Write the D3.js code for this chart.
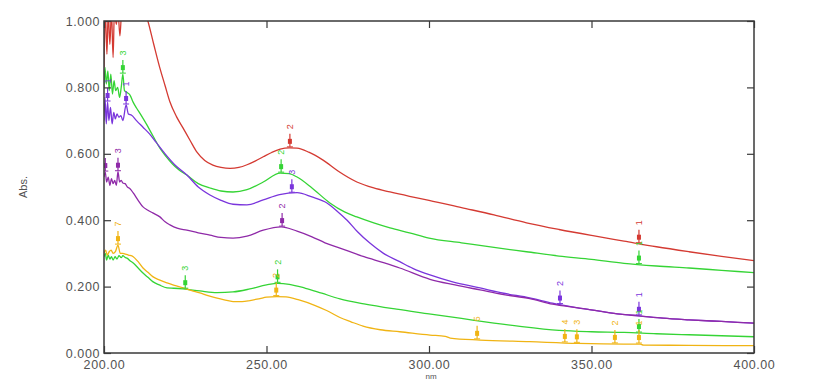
<!DOCTYPE html>
<html>
<head>
<meta charset="utf-8">
<script src="https://cdn.jsdelivr.net/npm/d3@7"></script>
<style>
  body { margin: 0; background: #fff; }
  svg { display: block; font-family: "Liberation Sans", Arial, sans-serif; }
</style>
</head>
<body>
<svg id="chart" width="815" height="381"></svg>
<script>
// wavelength (nm) / absorbance pairs
const redData = [
  [200, 0.86], [200.4, 1.03], [200.9, 0.9], [201.3, 1.03], [201.8, 0.93], [202.3, 1.03],
  [202.8, 0.89], [203.2, 1.03], [203.8, 0.99], [204.3, 1.03], [204.9, 0.955], [205.4, 1.03],
  [206, 1.06], [210, 1.08], [213.5, 1.0], [215.3, 0.93], [217.2, 0.858], [218.8, 0.805],
  [220.3, 0.756], [222.3, 0.712], [224.3, 0.678], [226.5, 0.64], [228.6, 0.605], [231, 0.58],
  [233.5, 0.566], [236, 0.559], [238.8, 0.556], [241.5, 0.559], [244, 0.567], [246.5, 0.578],
  [249, 0.591], [251.6, 0.604], [254.2, 0.614], [257, 0.618], [259.4, 0.617], [263, 0.605],
  [267.4, 0.581], [272, 0.548], [277.8, 0.515], [283, 0.497], [288, 0.485], [294, 0.472],
  [300, 0.46], [310, 0.438], [320, 0.416], [330, 0.392], [340, 0.372], [350, 0.354],
  [360, 0.337], [370, 0.32], [380, 0.305], [390, 0.291], [400, 0.278]
];
const green1Data = [
  [200, 0.8], [200.3, 0.86], [200.7, 0.81], [201.2, 0.85], [201.6, 0.79], [202.1, 0.84],
  [202.6, 0.78], [203.1, 0.82], [203.6, 0.79], [204.2, 0.8], [204.8, 0.77], [205.3, 0.8],
  [205.8, 0.84], [206.3, 0.79], [207, 0.785], [208, 0.777], [209, 0.755], [210, 0.738],
  [211.5, 0.715], [213.2, 0.687], [215, 0.655], [217.2, 0.617], [219, 0.593], [221, 0.57],
  [223, 0.552], [225.5, 0.536], [229, 0.51], [232.6, 0.497], [236, 0.488], [239.7, 0.485],
  [244, 0.492], [249, 0.515], [254.2, 0.542], [257, 0.54], [259.4, 0.53], [264, 0.497],
  [269.5, 0.452], [274, 0.425], [277.8, 0.41], [283, 0.392], [288, 0.377], [294, 0.362],
  [300, 0.346], [310, 0.332], [320, 0.318], [330, 0.305], [340, 0.292], [350, 0.282],
  [360, 0.27], [370, 0.262], [380, 0.256], [390, 0.249], [400, 0.242]
];
const purple1Data = [
  [200, 0.7], [200.3, 0.77], [200.7, 0.69], [201.1, 0.756], [201.5, 0.7], [202, 0.74],
  [202.5, 0.69], [203, 0.725], [203.5, 0.705], [204, 0.72], [204.6, 0.71], [205.2, 0.715],
  [205.8, 0.7], [206.8, 0.747], [207.5, 0.72], [208.5, 0.716], [210, 0.7], [212, 0.68],
  [214, 0.66], [216, 0.635], [218.8, 0.6], [222, 0.565], [225.5, 0.536], [229, 0.5],
  [232.6, 0.476], [236, 0.46], [239.7, 0.448], [244, 0.446], [249, 0.461], [254, 0.477],
  [259.4, 0.483], [264, 0.47], [268.6, 0.452], [272, 0.425], [274.8, 0.4], [278, 0.365],
  [281.8, 0.331], [286, 0.3], [291, 0.275], [295, 0.255], [300.3, 0.235], [307, 0.215],
  [315.7, 0.196], [323, 0.18], [331, 0.166], [338, 0.15], [345.8, 0.136], [352, 0.127],
  [358.8, 0.117], [364.6, 0.112], [372, 0.105], [380, 0.1], [390, 0.095], [400, 0.09]
];
const purple2Data = [
  [200, 0.53], [200.4, 0.545], [200.8, 0.515], [201.3, 0.53], [201.8, 0.505], [202.3, 0.525],
  [202.8, 0.51], [203.3, 0.52], [203.8, 0.505], [204.3, 0.546], [204.8, 0.515], [205.3, 0.52],
  [205.8, 0.512], [206.5, 0.51], [207.2, 0.5], [208, 0.495], [209, 0.482], [210.5, 0.46],
  [212, 0.44], [213.5, 0.43], [215, 0.422], [217.2, 0.41], [218.8, 0.395], [220.3, 0.386],
  [222.5, 0.376], [225.5, 0.37], [229, 0.362], [232.6, 0.355], [236, 0.348], [239.7, 0.346],
  [244, 0.352], [249, 0.37], [254.5, 0.38], [259.4, 0.367], [264, 0.35], [268, 0.332],
  [272.6, 0.316], [280, 0.29], [286, 0.272], [291, 0.256], [300.3, 0.222], [308, 0.205],
  [315.7, 0.19], [323, 0.176], [331, 0.164], [338, 0.147], [345.8, 0.136], [352, 0.127],
  [358.8, 0.117], [364.6, 0.112], [372, 0.105], [380, 0.1], [390, 0.095], [400, 0.09]
];
const green2Data = [
  [200, 0.29], [200.4, 0.3], [200.8, 0.28], [201.3, 0.295], [201.8, 0.283], [202.3, 0.29],
  [202.8, 0.28], [203.4, 0.29], [204, 0.283], [204.6, 0.293], [205.3, 0.287], [205.8, 0.293],
  [206.5, 0.288], [207.2, 0.285], [208, 0.278], [209, 0.271], [210.5, 0.256], [212, 0.241],
  [213.5, 0.228], [215, 0.215], [217, 0.205], [219.4, 0.196], [221.5, 0.195], [224.3, 0.193],
  [229.5, 0.187], [234.8, 0.182], [239.7, 0.184], [244.9, 0.193], [250, 0.205], [253.5, 0.21],
  [257, 0.207], [262, 0.195], [267, 0.18], [272.6, 0.163], [280, 0.148], [290, 0.132],
  [300, 0.118], [310, 0.104], [320, 0.09], [328, 0.08], [340, 0.068], [350, 0.064],
  [360, 0.062], [370, 0.058], [380, 0.055], [390, 0.052], [400, 0.049]
];
const orangeData = [
  [200, 0.3], [200.5, 0.31], [201, 0.295], [201.6, 0.305], [202.2, 0.31], [202.8, 0.3],
  [203.5, 0.305], [204.3, 0.325], [205, 0.3], [205.8, 0.3], [206.6, 0.298], [207.5, 0.295],
  [209, 0.29], [210.5, 0.275], [212, 0.256], [213.5, 0.243], [215, 0.23], [217, 0.22],
  [219.4, 0.211], [222, 0.203], [224.3, 0.196], [227, 0.188], [229.5, 0.181], [232, 0.173],
  [234.8, 0.165], [237, 0.16], [239.7, 0.155], [242.5, 0.155], [244.9, 0.158], [248, 0.164],
  [250, 0.168], [253.2, 0.17], [256, 0.169], [260, 0.16], [265, 0.143], [268.5, 0.128],
  [272.6, 0.107], [276, 0.094], [279.7, 0.081], [285, 0.07], [291, 0.064], [300.3, 0.054],
  [305, 0.05], [306.5, 0.045], [315.7, 0.039], [331, 0.034], [345.8, 0.029], [360, 0.027],
  [365, 0.027], [366, 0.024], [380, 0.023], [400, 0.022]
];

// peak-pick markers: [nm, label]
const redMarks = [[257.2, "2"], [364.6, "1"]];
const green1Marks = [[205.8, "3"], [254.5, "2"], [364.6, "1"]];
const purple1Marks = [[201.1, "1"], [206.8, "1"], [257.8, "3"], [340.3, "2"], [364.6, "1"]];
const purple2Marks = [[200.4, ""], [204.3, "3"], [254.8, "2"]];
const green2Marks = [[225, "3"], [253.4, "2"], [364.6, "1"]];
const orangeMarks = [[204.3, "7"], [253, "2"], [314.8, "5"], [341.8, "4"], [345.5, "3"], [357.2, "2"], [364.6, "1"]];

const xTicks = [200, 250, 300, 350, 400];
const yTicks = [0, 0.2, 0.4, 0.6, 0.8, 1.0];

const series = [
  { data: redData, marks: redMarks, color: "#d43a32" },
  { data: green1Data, marks: green1Marks, color: "#35d435" },
  { data: purple1Data, marks: purple1Marks, color: "#7a35dc" },
  { data: purple2Data, marks: purple2Marks, color: "#8f2aa8" },
  { data: green2Data, marks: green2Marks, color: "#35d435" },
  { data: orangeData, marks: orangeMarks, color: "#f0b414" }
];

const margin = { top: 21, right: 61, bottom: 28, left: 104 };
const width = 815, height = 381;

const svg = d3.select("#chart");

const x = d3.scaleLinear([200, 400], [margin.left, width - margin.right]);
const y = d3.scaleLinear([0, 1], [height - margin.bottom, margin.top]);

svg.append("clipPath").attr("id", "plot")
  .append("rect")
  .attr("x", x(200)).attr("y", y(1))
  .attr("width", x(400) - x(200)).attr("height", y(0) - y(1));

// value of a series at a wavelength (linear between read points)
const valueAt = (data, nm) => {
  const i = d3.bisector((d) => d[0]).left(data, nm);
  if (i <= 0) return data[0][1];
  if (i >= data.length) return data[data.length - 1][1];
  const [x0, y0] = data[i - 1], [x1, y1] = data[i];
  return y0 + ((nm - x0) / (x1 - x0)) * (y1 - y0);
};

const line = d3.line()
  .x((d) => x(d[0]))
  .y((d) => y(d[1]))
  .curve(d3.curveMonotoneX);

const plot = svg.append("g").attr("clip-path", "url(#plot)");

plot.selectAll("path.spec")
  .data(series)
  .join("path")
  .attr("class", "spec")
  .attr("fill", "none")
  .attr("stroke", (d) => d.color)
  .attr("stroke-width", 1.3)
  .attr("d", (d) => line(d.data));

// markers
series.forEach((s) => {
  const g = plot.append("g").attr("fill", s.color).attr("stroke", s.color);
  s.marks.forEach(([nm, lab]) => {
    const px = x(nm), py = y(valueAt(s.data, nm));
    g.append("line")
      .attr("x1", px).attr("x2", px)
      .attr("y1", py - 14).attr("y2", py - 1)
      .attr("stroke-width", 1.2);
    g.append("rect")
      .attr("x", px - 2).attr("y", py - 9)
      .attr("width", 4).attr("height", 5)
      .attr("stroke", "none");
    g.append("line")
      .attr("x1", px - 3).attr("x2", px + 3)
      .attr("y1", py - 1).attr("y2", py - 1)
      .attr("stroke-width", 1);
    if (lab) {
      g.append("text")
        .attr("transform", `translate(${px + 3},${py - 21}) rotate(-90)`)
        .attr("text-anchor", "middle")
        .attr("stroke", "none")
        .attr("font-size", 9)
        .text(lab);
    }
  });
});

// axes
const axisColor = "#3a3a3a";
const labelColor = "#525252";

const xAxis = svg.append("g")
  .attr("transform", `translate(0,${y(0)})`)
  .call(d3.axisBottom(x).tickValues(xTicks).tickSize(-7).tickFormat(d3.format(".2f")));
xAxis.selectAll(".tick text").attr("y", 7.5);

svg.append("g")
  .attr("transform", `translate(0,${y(1)})`)
  .call(d3.axisTop(x).tickValues(xTicks).tickSize(-7).tickFormat(""));

const yAxis = svg.append("g")
  .attr("transform", `translate(${x(200)},0)`)
  .call(d3.axisLeft(y).tickValues(yTicks).tickSize(-7).tickFormat(d3.format(".3f")));
yAxis.selectAll(".tick text").attr("x", -4);

svg.append("g")
  .attr("transform", `translate(${x(400)},0)`)
  .call(d3.axisRight(y).tickValues(yTicks).tickSize(-7).tickFormat(""));

svg.selectAll(".domain").remove();
svg.selectAll(".tick line").attr("stroke", axisColor).attr("stroke-width", 1.2);
svg.selectAll(".tick text")
  .attr("fill", labelColor)
  .attr("font-size", 12.5)
  .attr("letter-spacing", 0.6)
  .attr("font-family", "'Liberation Sans', Arial, sans-serif");

svg.append("rect")
  .attr("x", x(200)).attr("y", y(1))
  .attr("width", x(400) - x(200)).attr("height", y(0) - y(1))
  .attr("fill", "none")
  .attr("stroke", axisColor)
  .attr("stroke-width", 1.5);

svg.append("text")
  .attr("transform", `translate(27,${(y(0) + y(1)) / 2}) rotate(-90)`)
  .attr("text-anchor", "middle")
  .attr("fill", labelColor)
  .attr("font-size", 11)
  .text("Abs.");

svg.append("text")
  .attr("x", x(300) + 2)
  .attr("y", 379.2)
  .attr("text-anchor", "middle")
  .attr("fill", labelColor)
  .attr("font-size", 8)
  .text("nm");
</script>
</body>
</html>
